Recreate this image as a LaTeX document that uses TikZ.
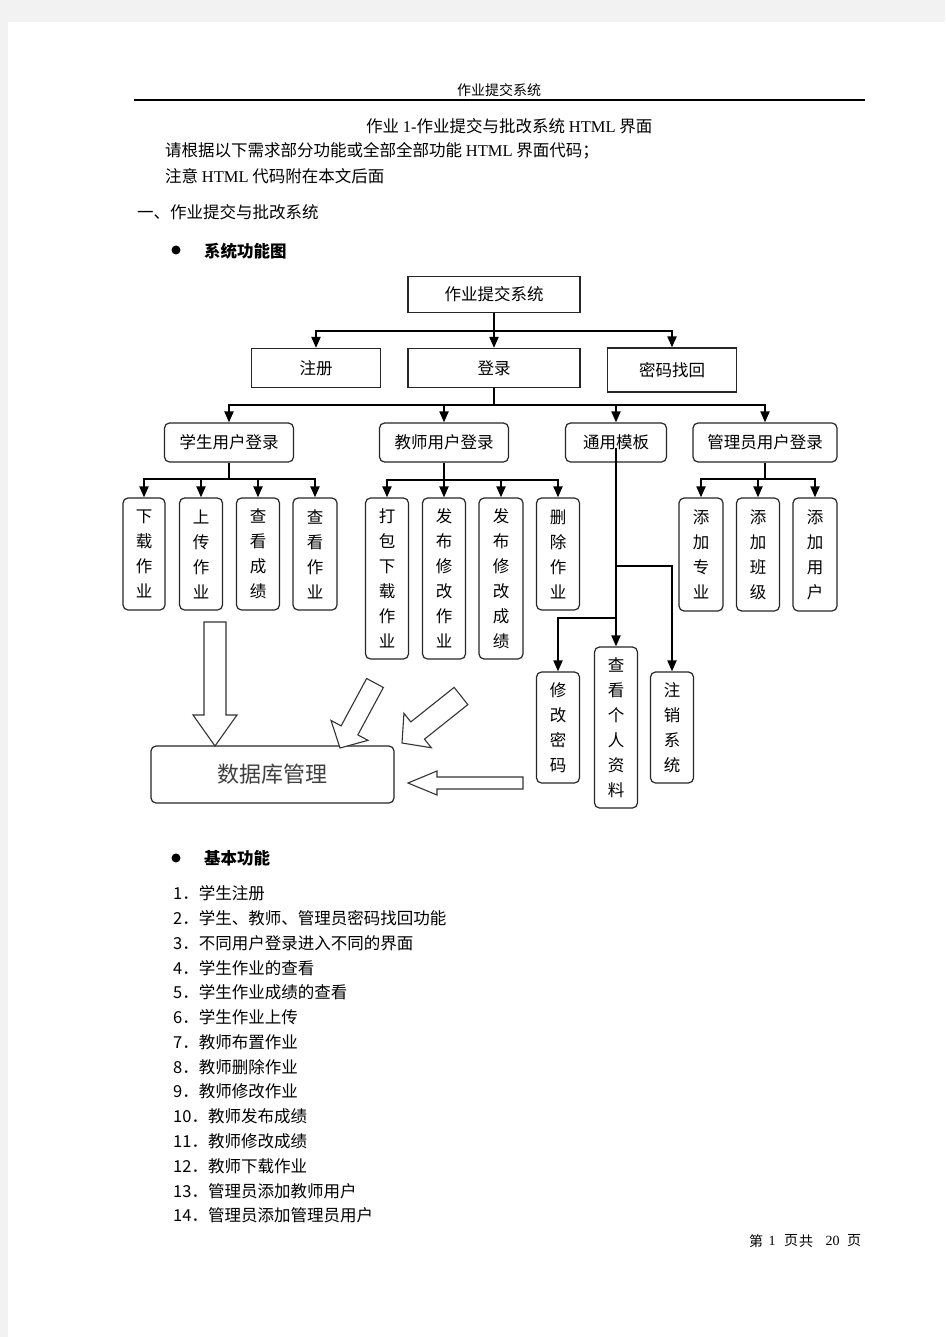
\documentclass[tikz,border=0pt]{standalone}
\usepackage{fontspec}
\setmainfont{Noto Sans CJK SC}
\newfontfamily\lat{Liberation Serif}
\usetikzlibrary{arrows.meta,calc}
\definecolor{bg}{HTML}{F2F2F2}
\tikzset{
  body/.style={font=\fontsize{16.5}{25}\selectfont, inner sep=0pt},
  headb/.style={font=\fontsize{16.5}{25}\selectfont\bfseries, inner sep=0pt},
  small/.style={font=\fontsize{14}{16}\selectfont, inner sep=0pt},
  sqbox/.style={draw=black!85, line width=1.2pt, inner sep=0pt, font=\fontsize{16.5}{25}\selectfont},
  rbox/.style={sqbox, rounded corners=5pt},
  vbox/.style={rbox, align=center},
  conn/.style={line width=2pt, black},
  arr/.style={conn, -{Triangle[length=11pt,width=9pt]}},
  harrow/.style={draw=black!80, line width=1.1pt, fill=white, line join=miter},
}
\newcommand\hollowarrow[5]{%
  \coordinate (HT) at (#1);
  \coordinate (HP) at (#2);
  \coordinate (HB) at ($(HP)!#5!(HT)$);
  \draw[harrow] ($(HT)!#3!90:(HP)$) -- ($(HB)!#3!-90:(HT)$) -- ($(HB)!#4!-90:(HT)$)
     -- (HP) -- ($(HB)!#4!90:(HT)$) -- ($(HB)!#3!90:(HT)$) -- ($(HT)!#3!-90:(HP)$) -- cycle;}
\begin{document}
\begin{tikzpicture}[x=1pt,y=-1pt]
\useasboundingbox (0,0) rectangle (945,1337);
\fill[bg] (0,0) rectangle (945,1337);
\fill[white] (8,22) rectangle (945,1337);

% page header
\node[small] (hdr) at (499,90) {作业提交系统};
\draw[line width=2pt] (134,100.5) -- (865,100.5);

% intro text
\node[body, anchor=west] (title) at (366,126) {作业 {\lat 1-}作业提交与批改系统 {\lat HTML} 界面};
\node[body, anchor=west] (req) at (165,151) {请根据以下需求部分功能或全部全部功能 {\lat HTML} 界面代码；};
\node[body, anchor=west] (note) at (165,176) {注意 {\lat HTML} 代码附在本文后面};
\node[body, anchor=west] (sec) at (137,212) {一、作业提交与批改系统};
\fill (176,250) circle (4.5pt);
\node[headb, anchor=west] (h1) at (204,251) {系统功能图};

% diagram level 0/1
\node[sqbox, minimum width=172, minimum height=36] (sys) at (494,294.5) {作业提交系统};
\node[sqbox, minimum width=129, minimum height=39] (reg) at (316,368) {注册};
\node[sqbox, minimum width=172, minimum height=39] (login) at (494,368) {登录};
\node[sqbox, minimum width=129, minimum height=44] (pwd) at (672,370) {密码找回};

% level 2
\node[rbox, minimum width=129, minimum height=39] (stu) at (229,442.5) {学生用户登录};
\node[rbox, minimum width=129, minimum height=39] (tea) at (444,442.5) {教师用户登录};
\node[rbox, minimum width=101, minimum height=39] (tmpl) at (616,442.5) {通用模板};
\node[rbox, minimum width=144, minimum height=39] (adm) at (765,442.5) {管理员用户登录};

% leaves
\node[vbox, minimum width=42, minimum height=112] (s1) at (144,554) {下\\载\\作\\业};
\node[vbox, minimum width=43, minimum height=112] (s2) at (201,554) {上\\传\\作\\业};
\node[vbox, minimum width=43, minimum height=112] (s3) at (258,554) {查\\看\\成\\绩};
\node[vbox, minimum width=44, minimum height=112] (s4) at (315,554) {查\\看\\作\\业};

\node[vbox, minimum width=43, minimum height=161] (t1) at (387,578.5) {打\\包\\下\\载\\作\\业};
\node[vbox, minimum width=43, minimum height=161] (t2) at (444,578.5) {发\\布\\修\\改\\作\\业};
\node[vbox, minimum width=44, minimum height=161] (t3) at (501,578.5) {发\\布\\修\\改\\成\\绩};
\node[vbox, minimum width=43, minimum height=112] (t4) at (558,554) {删\\除\\作\\业};

\node[vbox, minimum width=44, minimum height=113] (a1) at (701,554.5) {添\\加\\专\\业};
\node[vbox, minimum width=43, minimum height=113] (a2) at (758,554.5) {添\\加\\班\\级};
\node[vbox, minimum width=44, minimum height=113] (a3) at (815,554.5) {添\\加\\用\\户};

\node[vbox, minimum width=43, minimum height=111] (g1) at (558,727.5) {修\\改\\密\\码};
\node[vbox, minimum width=43, minimum height=161] (g2) at (616,727.5) {查\\看\\个\\人\\资\\料};
\node[vbox, minimum width=43, minimum height=111] (g3) at (672,727.5) {注\\销\\系\\统};

\node[rbox, minimum width=243, minimum height=57, font=\fontsize{22}{26}\selectfont, text=black!75] (db) at (272.5,774.5) {数据库管理};

% bus levels
\coordinate (bus0) at (0,331);
\coordinate (bus1) at (0,405);
\coordinate (busS) at (0,479);
\coordinate (busT) at (0,480);
\coordinate (busA) at (0,479);
\coordinate (brA) at (0,566);
\coordinate (brB) at (0,618);

% connectors
\draw[conn] (sys.south) -- (sys.south |- bus0);
\foreach \c in {reg,login,pwd} \draw[arr] (sys.south |- bus0) -| (\c.north);

\draw[conn] (login.south) -- (login.south |- bus1);
\foreach \c in {stu,tea,tmpl,adm} \draw[arr] (login.south |- bus1) -| (\c.north);

\draw[conn] (stu.south) -- (stu.south |- busS);
\foreach \c in {s1,s2,s3,s4} \draw[arr] (stu.south |- busS) -| (\c.north);

\draw[conn] (tea.south) -- (tea.south |- busT);
\foreach \c in {t1,t2,t3,t4} \draw[arr] (tea.south |- busT) -| (\c.north);

\draw[conn] (adm.south) -- (adm.south |- busA);
\foreach \c in {a1,a2,a3} \draw[arr] (adm.south |- busA) -| (\c.north);

\coordinate (tstart) at ($(tmpl.center)+(0,5)$);
\draw[arr] (tstart) -- (g2.north);
\draw[arr] (tstart |- brA) -| (g3.north);
\draw[arr] (tstart |- brB) -| (g1.north);

% hollow arrows into the database box
\hollowarrow{215,622}{215,746}{11pt}{22pt}{31pt}
\hollowarrow{375,683}{340,748}{9.5pt}{21pt}{20pt}
\hollowarrow{461,696}{402,743}{11pt}{22pt}{20pt}
\hollowarrow{523,783}{408,783}{6pt}{12pt}{29pt}

% basic functions
\fill (176,858) circle (4.5pt);
\node[headb, anchor=west] (h2) at (204,858) {基本功能};
\node[body, anchor=west] (l1) at (173,893) {1．学生注册};
\node[body, anchor=west] (l2) at (173,918) {2．学生、教师、管理员密码找回功能};
\node[body, anchor=west] (l3) at (173,943) {3．不同用户登录进入不同的界面};
\node[body, anchor=west] (l4) at (173,968) {4．学生作业的查看};
\node[body, anchor=west] (l5) at (173,992) {5．学生作业成绩的查看};
\node[body, anchor=west] (l6) at (173,1017) {6．学生作业上传};
\node[body, anchor=west] (l7) at (173,1042) {7．教师布置作业};
\node[body, anchor=west] (l8) at (173,1067) {8．教师删除作业};
\node[body, anchor=west] (l9) at (173,1091) {9．教师修改作业};
\node[body, anchor=west] (l10) at (173,1116) {10．教师发布成绩};
\node[body, anchor=west] (l11) at (173,1141) {11．教师修改成绩};
\node[body, anchor=west] (l12) at (173,1166) {12．教师下载作业};
\node[body, anchor=west] (l13) at (173,1191) {13．管理员添加教师用户};
\node[body, anchor=west] (l14) at (173,1215) {14．管理员添加管理员用户};

% footer
\node[small] (f1) at (756,1241) {第};
\node[small, font=\fontsize{14}{16}\lat] (f2) at (772,1241) {1};
\node[small] (f3) at (791,1241) {页};
\node[small] (f4) at (806,1241) {共};
\node[small, font=\fontsize{14}{16}\lat] (f5) at (832.5,1241) {20};
\node[small] (f6) at (854,1241) {页};
\end{tikzpicture}
\end{document}
